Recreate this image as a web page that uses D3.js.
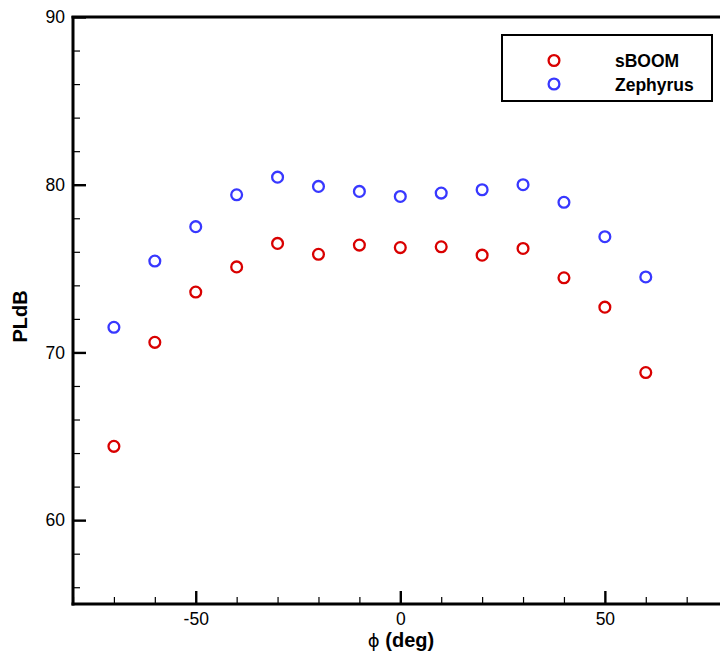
<!DOCTYPE html>
<html>
<head>
<meta charset="utf-8">
<script src="https://cdn.jsdelivr.net/npm/d3@7"></script>
<style>
  html, body { margin: 0; padding: 0; background: #fff; }
  svg { display: block; font-family: Arial, "Liberation Sans", sans-serif; }
</style>
</head>
<body>
<svg id="chart" width="720" height="655"></svg>
<script>
// Azimuth angles (deg) and perceived loudness (PLdB) per propagation code
const phi = [-70, -60, -50, -40, -30, -20, -10, 0, 10, 20, 30, 40, 50, 60];
const sBOOM = [64.4, 70.6, 73.6, 75.1, 76.5, 75.85, 76.4, 76.25, 76.3, 75.8, 76.2, 74.45, 72.7, 68.8];
const zephyrus = [71.5, 75.45, 77.5, 79.4, 80.45, 79.9, 79.6, 79.3, 79.5, 79.7, 80.0, 78.95, 76.9, 74.5];
const seriesNames = ["sBOOM", "Zephyrus"];
const seriesColors = ["#d90000", "#3838ff"];
const xMajorTicks = [-50, 0, 50];
const yMajorTicks = [60, 70, 80, 90];
const xDomain = [-80, 80];
const yDomain = [55, 90];

const svg = d3.select("#chart");
const plotLeft = 73, plotTop = 17, plotBottom = 604, plotRight = 727.6;

const x = d3.scaleLinear().domain(xDomain).range([plotLeft, plotRight]);
const y = d3.scaleLinear().domain(yDomain).range([plotBottom, plotTop]);

const xMinor = d3.range(-80, 81, 10).filter(v => !xMajorTicks.includes(v));
const yMinor = d3.range(56, 90, 2).filter(v => !yMajorTicks.includes(v));

// minor ticks (inside)
const gxm = svg.append("g").attr("transform", `translate(0,${plotBottom})`)
  .call(d3.axisBottom(x).tickValues(xMinor).tickSize(-7).tickFormat(""));
const gym = svg.append("g").attr("transform", `translate(${plotLeft},0)`)
  .call(d3.axisLeft(y).tickValues(yMinor).tickSize(-7).tickFormat(""));
[gxm, gym].forEach(g => {
  g.select(".domain").remove();
  g.selectAll(".tick line").attr("stroke", "#000").attr("stroke-width", 1.2);
});

// major ticks with labels (plain hyphen for negatives)
const fmt = d => String(d);
const gx = svg.append("g").attr("transform", `translate(0,${plotBottom})`)
  .call(d3.axisBottom(x).tickValues(xMajorTicks).tickSize(-13).tickFormat(fmt));
const gy = svg.append("g").attr("transform", `translate(${plotLeft},0)`)
  .call(d3.axisLeft(y).tickValues(yMajorTicks).tickSize(-13).tickFormat(fmt));
[gx, gy].forEach(g => {
  g.select(".domain").remove();
  g.selectAll(".tick line").attr("stroke", "#000").attr("stroke-width", 2.4);
  g.selectAll(".tick text").attr("fill", "#000").attr("font-size", 17.5)
    .attr("font-family", "Arial, 'Liberation Sans', sans-serif");
});
gy.selectAll(".tick text").attr("x", -8);
gx.selectAll(".tick text").attr("y", 9);

// frame lines: left, bottom, top
svg.append("line").attr("x1", plotLeft).attr("x2", plotLeft).attr("y1", plotTop - 1).attr("y2", plotBottom + 1.5)
  .attr("stroke", "#000").attr("stroke-width", 3);
svg.append("line").attr("x1", plotLeft - 1.5).attr("x2", 720).attr("y1", plotBottom).attr("y2", plotBottom)
  .attr("stroke", "#000").attr("stroke-width", 3);
svg.append("line").attr("x1", plotLeft - 1.5).attr("x2", 720).attr("y1", plotTop).attr("y2", plotTop)
  .attr("stroke", "#000").attr("stroke-width", 3);

// data markers
[sBOOM, zephyrus].forEach((vals, i) => {
  svg.append("g").selectAll("circle").data(vals).join("circle")
    .attr("cx", (d, j) => x(phi[j]))
    .attr("cy", d => y(d))
    .attr("r", 5.4)
    .attr("fill", "none")
    .attr("stroke", seriesColors[i])
    .attr("stroke-width", 2.3);
});

// legend
const lg = svg.append("g");
lg.append("rect").attr("x", 502).attr("y", 35).attr("width", 210).attr("height", 66)
  .attr("fill", "#fff").attr("stroke", "#000").attr("stroke-width", 2);
seriesNames.forEach((name, i) => {
  const cy = 60.5 + i * 23.5;
  lg.append("circle").attr("cx", 554).attr("cy", cy).attr("r", 5.4)
    .attr("fill", "none").attr("stroke", seriesColors[i]).attr("stroke-width", 2.3);
  lg.append("text").attr("x", 615).attr("y", cy + 6.5)
    .attr("font-size", 17.5).attr("font-weight", "bold").attr("fill", "#000").text(name);
});

// axis titles
svg.append("text")
  .attr("transform", `translate(27,${(plotTop + plotBottom) / 2 + 6}) rotate(-90)`)
  .attr("text-anchor", "middle").attr("font-size", 20).attr("font-weight", "bold")
  .text("PLdB");

const xt = svg.append("text").attr("x", 401).attr("y", 647)
  .attr("text-anchor", "middle").attr("font-size", 20);
xt.append("tspan").attr("font-family", "'DejaVu Sans', sans-serif").attr("font-size", 18).text("ϕ");
xt.append("tspan").attr("font-weight", "bold").text(" (deg)");
</script>
</body>
</html>
